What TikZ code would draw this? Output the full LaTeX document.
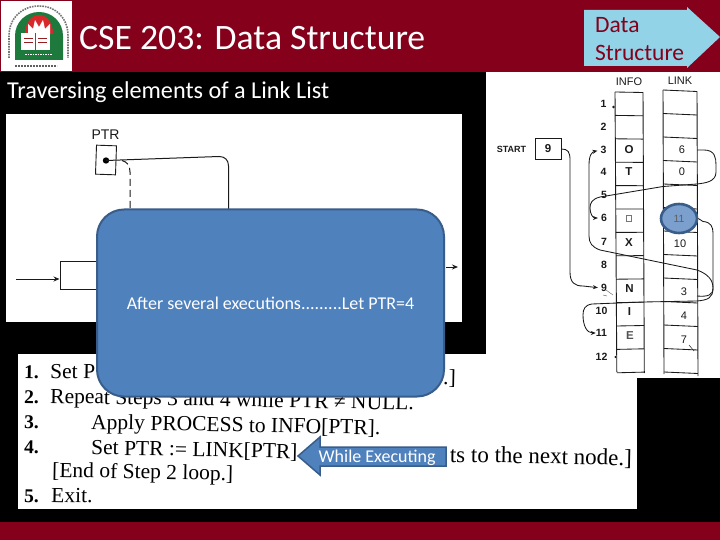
\documentclass[tikz,border=0pt]{standalone}
\usepackage{fontspec}
\setmainfont{Carlito}
\newfontfamily\scanserif{Liberation Serif}
\newfontfamily\scansans{Liberation Sans}
\usetikzlibrary{arrows.meta,shapes.arrows,shapes.geometric,calc}
\definecolor{maroon}{HTML}{85001A}
\definecolor{slideblue}{HTML}{4F81BD}
\definecolor{slideedge}{HTML}{385D8A}
\definecolor{tagblue}{HTML}{92D3E8}
\definecolor{ink}{HTML}{1A1A1A}
\definecolor{logogreen}{HTML}{1E7A3C}
\definecolor{logored}{HTML}{D8282A}
\tikzset{
  x=1pt,y=-1pt,
  wire/.style={draw=ink,line width=0.85pt},
  tipwire/.style={wire,-{Stealth[length=5pt,width=4pt]}},
  figwire/.style={draw=ink,line width=1pt},
  ptrbox/.style={draw=ink,line width=0.9pt,fill=white},
  scan/.style={font=\scanserif\fontsize{21.5}{21.5}\selectfont,text=black,anchor=base west,inner sep=0pt,rotate=-1.1},
  scanb/.style={scan,font=\scanserif\bfseries\fontsize{19.5}{19.5}\selectfont},
  cell/.style={font=\scansans\bfseries\fontsize{11.5}{11.5}\selectfont,text=ink,inner sep=0pt},
  linkno/.style={font=\scansans\fontsize{11}{11}\selectfont,text=ink,inner sep=0pt},
  rowno/.style={font=\scansans\bfseries\fontsize{10.5}{10.5}\selectfont,text=ink,inner sep=0pt},
  head/.style={font=\scansans\fontsize{11}{11}\selectfont,text=ink,inner sep=0pt},
  tagtext/.style={anchor=base west,inner sep=0pt,text=maroon,font=\fontsize{23.5}{23.5}\selectfont},
}
\begin{document}
\begin{tikzpicture}
\useasboundingbox (0,0) rectangle (720,540);
% background
\fill[black] (0,0) rectangle (720,540);
\fill[maroon] (0,0) rectangle (720,72);
\fill[maroon] (0,522) rectangle (720,540);
% white scans
\fill[white] (6,114) rectangle (462,322);
\fill[white] (486,72) rectangle (720,378);
\fill[white] (18,354) rectangle (637,509);
% logo
\fill[white] (1,1) rectangle (72,71);
\fill[logogreen] (15,60) -- (15,36) .. controls (15,22) and (26,12) .. (39,12) .. controls (52,12) and (63,22) .. (63,36) -- (63,60) -- cycle;
\fill[logored] (25,34) .. controls (25,23) and (31,15) .. (39,15) .. controls (47,15) and (53,23) .. (53,34) -- cycle;
\fill[white] (28,24) -- (33,29) -- (35,20) -- (39,27) -- (43,20) -- (45,29) -- (50,24) -- (50,34) -- (28,34) -- cycle;
\fill[white] (21,33) rectangle (50,50);
\draw[logogreen,line width=0.6pt] (35.5,33) -- (35.5,50);
\draw[logored!70!black,line width=0.4pt] (24,38) -- (33,38) (24,42) -- (33,42) (38,38) -- (47,38) (38,42) -- (47,42);
\draw[white,line width=1pt,dash pattern=on 1.5pt off 1pt] (25,55) -- (52,55);
\draw[ink!60,line width=1.6pt,dash pattern=on 1.6pt off 1pt] (9,58) -- (9,36) .. controls (9,18) and (22,6) .. (39,6) .. controls (56,6) and (68,18) .. (68,36) -- (68,58);
\draw[ink!70,line width=1.8pt,dash pattern=on 2pt off 1pt] (15,66) -- (57,66);
% titles
\node[anchor=base west,inner sep=0pt,text=white,font=\fontsize{35.7}{35.7}\selectfont] (title) at (79,49.5) {CSE 203: Data Structure};
\node[anchor=base west,inner sep=0pt,text=white,font=\fontsize{24.2}{24.2}\selectfont] (subtitle) at (7,98.5) {Traversing elements of a Link List};
% tag
\fill[tagblue] (584,10) -- (687,10) -- (687,7) -- (720,37) -- (687,68) -- (687,66) -- (584,66) -- cycle;
\node[tagtext] (tag1) at (595,33) {Data};
\node[tagtext] (tag2) at (595,61) {Structure};
% left figure
\node[head,font=\scansans\fontsize{14}{14}\selectfont] (ptrlabel) at (105.5,134.5) {PTR};
\node[ptrbox,minimum width=20pt,minimum height=29pt,inner sep=0pt,rotate=-2] (ptrbox) at (106,160) {};
\fill[black] (106,160.5) circle (3.2) coordinate (ptrdot);
\draw[figwire] (ptrdot) -- (219,156.5) .. controls (225,156.5) and (228.5,160) .. (228.5,166) -- (228.5,215);
\draw[figwire,dash pattern=on 7pt off 4pt] (122,160.5) .. controls (127,162) and (130,165) .. (130,172) -- (130,215);
\node[draw=ink,fill=white,line width=1pt,inner sep=0pt,minimum width=50pt,minimum height=27.5pt,anchor=north west] (firstnode) at (59.5,261) {};
\coordinate (leftin) at (16,279);
\draw[figwire,-{Stealth[length=6pt,width=5pt]}] (leftin) -- (firstnode.west |- leftin);
\coordinate (rightfrom) at (446,267);
\coordinate (rightto) at (458,267);
\draw[figwire,-{Stealth[length=6pt,width=5pt]}] (rightfrom) -- (rightto);
% right table
\foreach \i in {0,...,12}{
  \draw[ink,line width=0.85pt] ({615+0.15*\i},{92+\i*23.4}) -- ({643+0.1*\i},{92.5+\i*23.3});
  \draw[ink,line width=0.85pt] ({663+0.08*\i},{90+\i*23.5}) -- ({697+0.08*\i},{91.5+\i*23.5});
}
\draw[ink,line width=0.9pt] (615,92) -- (616.8,372);
\draw[ink,line width=0.9pt] (643,92.5) -- (644.3,373);
\draw[ink,line width=0.9pt] (663,90) -- (664,374);
\draw[ink,line width=0.9pt] (697,91.5) -- (698,376);
\node[head] (infohead) at (629,82) {INFO};
\node[head] (linkhead) at (680,81) {LINK};
\node[rowno] (r1) at (603.5,104) {1};
\node[rowno] (r2) at (603.5,127) {2};
\node[rowno] (r3) at (603.5,150) {3};
\node[rowno] (r4) at (603.5,172) {4};
\node[rowno] (r5) at (604,195) {5};
\node[rowno] (r6) at (604,218) {6};
\node[rowno] (r7) at (604,242) {7};
\node[rowno] (r8) at (604,265) {8};
\node[rowno] (r9) at (604,288) {9};
\node[rowno] (r10) at (601.5,311) {10};
\node[rowno] (r11) at (601.5,333) {11};
\node[rowno] (r12) at (601.5,357) {12};
\node[cell] (iO) at (629,150) {O};
\node[cell] (iT) at (629,172) {T};
\draw[ink!60,line width=0.5pt] (626.5,215.5) rectangle (631,221);
\node[cell] (iX) at (629,242.5) {X};
\node[cell] (iN) at (629.5,289) {N};
\node[cell] (iI) at (629.5,312) {I};
\node[cell,text=ink!75] (iE) at (630,336) {E};
\node[linkno] (l3) at (682,150) {6};
\node[linkno] (l4) at (682,172) {0};
\node[linkno] (l7) at (680,244) {10};
\node[linkno] (l9) at (684,292) {3};
\node[linkno] (l10) at (684,316) {4};
\node[linkno] (l11) at (684,340) {7};
\draw[ink,line width=0.5pt] (689,345) -- (694,351);
\fill[ink] (613.5,107) circle (1.3);
\fill[ink] (615.5,357) circle (1.2);
\draw[ink!70,line width=0.4pt] (606,290) -- (613,295);
\draw[ink!70,line width=0.4pt] (603,295) -- (607,296);
% start box
\node[rowno,font=\scansans\bfseries\fontsize{9}{9}\selectfont] (startlabel) at (511.5,149.5) {START};
\node[ptrbox,minimum width=26pt,minimum height=21pt,inner sep=0pt,cell] (startbox) at (548,149) {9};
% highlight
\node[ellipse,draw=slideedge,line width=2.6pt,fill=slideblue!75!white,minimum width=36pt,minimum height=29pt,inner sep=0pt,
  text=ink!70,font=\scansans\fontsize{10.5}{10.5}\selectfont] (hl) at (679,218.5) {11};
% list connectors
\draw[tipwire,shorten >=3pt] (startbox.east) .. controls (568,149) and (570,152) .. (570,160) -- (570,272) .. controls (570,283) and (575,286) .. (583,286) -- (r9.west);
\draw[tipwire,shorten >=3pt] (697,150) -- (704,150) .. controls (715,150) and (716,158) .. (716,165) -- (716,172) .. controls (716,182) and (705,183) .. (697,184) -- (663,186.5) -- (600,197) .. controls (592,199) and (590,203) .. (590,208) .. controls (590,214) and (593,218) .. (r6.west);
\draw[tipwire,shorten >=3pt] (697,296) .. controls (708,297) and (713,295) .. (713,288) .. controls (713,280) and (708,274) .. (697,270) -- (600,250) .. controls (592,247) and (589,243) .. (589,236) -- (589,165) .. controls (589,155) and (592,152) .. (r3.west);
\draw[wire] (hl.east) -- (703,221.5) .. controls (711,222) and (713,227) .. (713,233) -- (713,288) .. controls (713,298) and (708,300) .. (697,301);
\draw[tipwire] (697,301) -- (643,302) -- (592,304) .. controls (585,305) and (583,309) .. (583,315) .. controls (583,326) and (587,333) .. (r11.west);
% lower scan text
\node[scanb] (n1) at (24,378) {1.};
\node[scan] (t1) at (50,378) {Set P};
\node[scan] (t1b) at (443,384.5) {.]};
\node[scanb] (n2) at (24,403) {2.};
\node[scan] (t2) at (50,403) {Repeat Steps 3 and 4 while PTR ≠ NULL.};
\node[scanb] (n3) at (24,428) {3.};
\node[scan] (t3) at (91,429) {Apply PROCESS to INFO[PTR].};
\node[scanb] (n4) at (24,453) {4.};
\node[scan] (t4) at (91,454.5) {Set PTR := LINK[PTR]};
\node[scan,font=\scanserif\fontsize{23}{23}\selectfont,anchor=base east,rotate=0] (t4b) at (632,465.5) {ts to the next node.]};
\node[scan] (t5) at (52,477) {[End of Step 2 loop.]};
\node[scanb] (n5) at (24,502) {5.};
\node[scan] (t6) at (51,502) {Exit.};
% blue rounded panel
\node[draw=slideedge,fill=slideblue,line width=2pt,rounded corners=27pt,minimum width=347pt,minimum height=187pt,inner sep=0pt,
  text=white,font=\fontsize{18}{18}\selectfont] (panel) at (270.5,303) {After several executions.........Let PTR=4};
% while executing arrow
\fill[slideblue,draw=slideedge,line width=1.5pt] (446,447) -- (320,447) -- (320,437) -- (298,456) -- (320,475) -- (320,466) -- (446,466) -- cycle;
\node[anchor=base west,inner sep=0pt,text=white,font=\fontsize{18}{18}\selectfont] (wex) at (318.5,462) {While Executing};
\end{tikzpicture}
\end{document}
